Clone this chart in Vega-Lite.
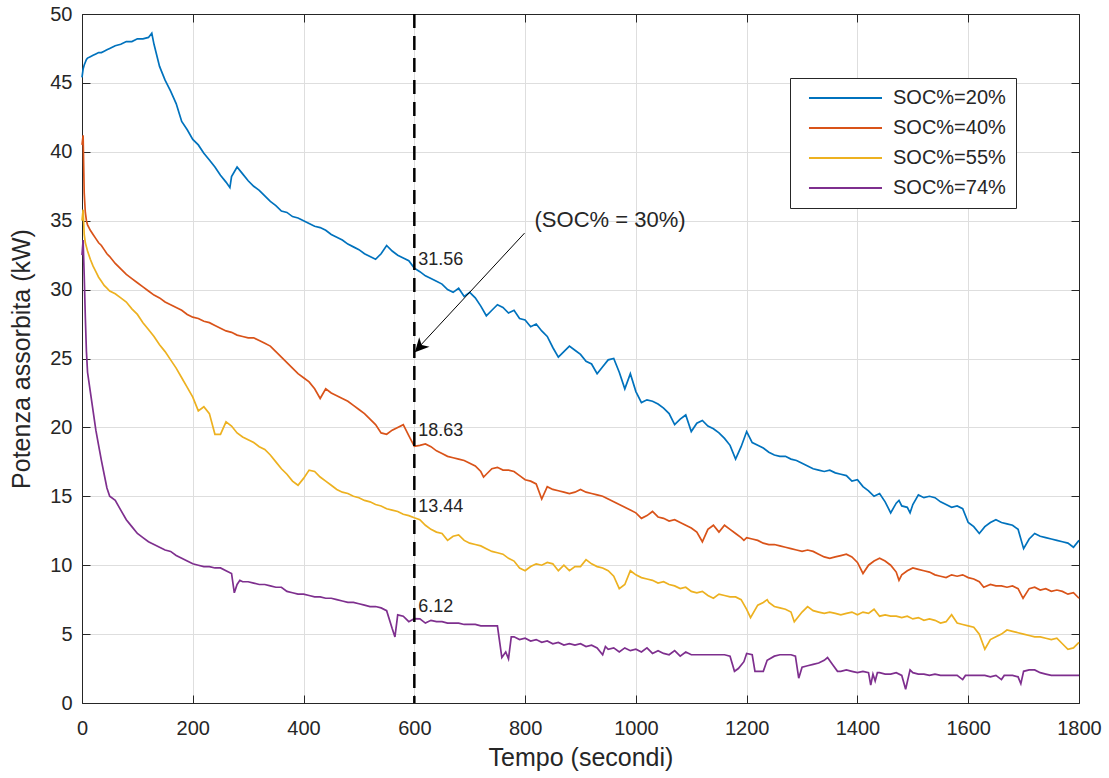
{
"$schema": "https://vega.github.io/schema/vega-lite/v6.json",
"width": 997, "height": 689,
"autosize": "none",
"padding": {"left": 82, "top": 14, "right": 30, "bottom": 75},
"background": "white",
"config": {
  "font": "Liberation Sans",
  "view": {"stroke": null},
  "axis": {"domainColor": "#262626", "tickColor": "#262626", "domainWidth": 1, "tickWidth": 1, "labelColor": "#262626", "titleColor": "#262626", "titleFontWeight": "normal", "labelFontSize": 20, "titleFontSize": 25, "gridColor": "#dedede", "gridWidth": 1, "tickSize": -8, "labelPadding": 23, "labelFlush": false, "format": "d"}
},
"resolve": {"axis": {"x": "independent", "y": "independent"}},
"layer": [
{
  "data": {"values": [
{"t":0,"a":45.4,"b":40.5,"c":35.0,"d":32.5},
{"t":2,"a":46.0,"b":41.2,"c":35.8,"d":33.6},
{"t":4,"a":46.3,"b":37.0,"c":34.0,"d":31.0},
{"t":6,"a":46.5,"b":35.6,"c":33.4,"d":28.0},
{"t":8,"a":46.7,"b":35.0,"c":33.1,"d":25.5},
{"t":10,"a":46.8,"b":34.7,"c":32.8,"d":24.0},
{"t":15,"a":46.9,"b":34.3,"c":32.2,"d":22.6},
{"t":20,"a":47.0,"b":34.0,"c":31.7,"d":21.2},
{"t":25,"a":47.1,"b":33.7,"c":31.3,"d":19.8},
{"t":30,"a":47.2,"b":33.4,"c":30.9,"d":18.7},
{"t":35,"a":47.2,"b":33.2,"c":30.6,"d":17.6},
{"t":40,"a":47.3,"b":32.9,"c":30.3,"d":16.6},
{"t":45,"a":47.4,"b":32.6,"c":30.1,"d":15.6},
{"t":50,"a":47.5,"b":32.4,"c":29.9,"d":15.0},
{"t":60,"a":47.7,"b":31.9,"c":29.7,"d":14.7},
{"t":70,"a":47.8,"b":31.5,"c":29.4,"d":14.0},
{"t":80,"a":48.0,"b":31.1,"c":29.1,"d":13.3},
{"t":90,"a":48.0,"b":30.8,"c":28.6,"d":12.8},
{"t":100,"a":48.2,"b":30.5,"c":28.2,"d":12.3},
{"t":110,"a":48.2,"b":30.2,"c":27.6,"d":12.0},
{"t":120,"a":48.3,"b":29.9,"c":27.1,"d":11.7},
{"t":126,"a":48.6},
{"t":130,"a":47.8,"b":29.6,"c":26.6,"d":11.5},
{"t":140,"a":46.2,"b":29.4,"c":26.0,"d":11.3},
{"t":150,"a":45.2,"b":29.1,"c":25.5,"d":11.1},
{"t":160,"a":44.4,"b":28.9,"c":24.9,"d":11.0},
{"t":170,"a":43.5,"b":28.7,"c":24.3,"d":10.7},
{"t":180,"a":42.2,"b":28.5,"c":23.6,"d":10.5},
{"t":190,"a":41.6,"b":28.2,"c":22.9,"d":10.3},
{"t":200,"a":40.9,"b":28.0,"c":22.2,"d":10.1},
{"t":210,"a":40.5,"b":27.9,"c":21.2,"d":10.0},
{"t":220,"a":39.9,"b":27.7,"c":21.5,"d":9.9},
{"t":230,"a":39.4,"b":27.6,"c":21.0,"d":9.9},
{"t":240,"a":38.9,"b":27.4,"c":19.5,"d":9.8},
{"t":250,"a":38.3,"b":27.2,"c":19.5,"d":9.8},
{"t":260,"a":37.8,"b":27.0,"c":20.4,"d":9.6},
{"t":267,"a":37.4},
{"t":270,"a":38.2,"b":26.9,"c":20.1,"d":9.4},
{"t":275,"d":8.0},
{"t":280,"a":38.9,"b":26.7,"c":19.6,"d":8.6},
{"t":285,"d":8.9},
{"t":290,"a":38.4,"b":26.6,"c":19.3,"d":8.8},
{"t":300,"a":37.9,"b":26.5,"c":19.1,"d":8.8},
{"t":310,"a":37.5,"b":26.5,"c":18.9,"d":8.7},
{"t":320,"a":37.2,"b":26.3,"c":18.6,"d":8.6},
{"t":330,"a":36.8,"b":26.1,"c":18.4,"d":8.6},
{"t":340,"a":36.4,"b":25.9,"c":18.0,"d":8.5},
{"t":350,"a":36.1,"b":25.5,"c":17.5,"d":8.4},
{"t":360,"a":35.7,"b":25.1,"c":17.0,"d":8.4},
{"t":370,"a":35.6,"b":24.7,"c":16.6,"d":8.1},
{"t":380,"a":35.3,"b":24.3,"c":16.1,"d":8.0},
{"t":390,"a":35.2,"b":23.9,"c":15.8,"d":7.9},
{"t":400,"a":35.0,"b":23.6,"c":16.3,"d":7.9},
{"t":410,"a":34.8,"b":23.3,"c":16.9,"d":7.8},
{"t":420,"a":34.6,"b":22.8,"c":16.8,"d":7.7},
{"t":430,"a":34.5,"b":22.1,"c":16.4,"d":7.7},
{"t":440,"a":34.3,"b":22.8,"c":16.1,"d":7.6},
{"t":450,"a":34.0,"b":22.5,"c":15.8,"d":7.6},
{"t":460,"a":33.8,"b":22.3,"c":15.5,"d":7.5},
{"t":470,"a":33.6,"b":22.1,"c":15.3,"d":7.4},
{"t":480,"a":33.3,"b":21.9,"c":15.2,"d":7.3},
{"t":490,"a":33.1,"b":21.6,"c":15.0,"d":7.3},
{"t":500,"a":32.9,"b":21.3,"c":14.9,"d":7.2},
{"t":510,"a":32.6,"b":21.0,"c":14.7,"d":7.1},
{"t":520,"a":32.4,"b":20.6,"c":14.6,"d":7.0},
{"t":530,"a":32.2,"b":20.2,"c":14.4,"d":7.0},
{"t":540,"a":32.6,"b":19.6,"c":14.3,"d":6.9},
{"t":550,"a":33.2,"b":19.5,"c":14.1,"d":6.7},
{"t":560,"a":32.8,"b":19.8,"c":14.0,"d":5.4},
{"t":565,"d":4.8},
{"t":570,"a":32.5,"b":20.0,"c":13.9,"d":6.4},
{"t":580,"a":32.3,"b":20.2,"c":13.7,"d":6.3},
{"t":590,"a":32.1,"b":19.4,"c":13.6,"d":5.9},
{"t":600,"a":31.56,"b":18.63,"c":13.44,"d":6.12},
{"t":610,"a":31.3,"b":18.7,"c":13.3,"d":6.1},
{"t":620,"a":31.0,"b":18.8,"c":12.9,"d":5.8},
{"t":630,"a":30.8,"b":18.6,"c":12.6,"d":6.0},
{"t":640,"a":30.6,"b":18.3,"c":12.4,"d":5.9},
{"t":650,"a":30.4,"b":18.1,"c":12.3,"d":5.9},
{"t":660,"a":30.0,"b":17.9,"c":11.8,"d":5.8},
{"t":670,"a":29.8,"b":17.8,"c":12.1,"d":5.8},
{"t":680,"a":30.1,"b":17.7,"c":12.2,"d":5.8},
{"t":690,"a":29.5,"b":17.6,"c":11.8,"d":5.7},
{"t":700,"a":29.8,"b":17.4,"c":11.6,"d":5.7},
{"t":710,"a":29.4,"b":17.2,"c":11.5,"d":5.7},
{"t":720,"a":28.8,"b":16.8,"c":11.4,"d":5.6},
{"t":725,"b":16.4},
{"t":730,"a":28.1,"b":16.6,"c":11.2,"d":5.6},
{"t":740,"a":28.5,"b":17.0,"c":11.0,"d":5.6},
{"t":750,"a":28.9,"b":17.1,"c":10.9,"d":5.6},
{"t":758,"d":3.3},
{"t":760,"a":28.7,"b":16.9,"c":10.8},
{"t":765,"d":3.7},
{"t":770,"a":28.3,"b":16.9,"c":10.5,"d":3.2},
{"t":775,"d":4.8},
{"t":780,"a":28.5,"b":16.8,"c":10.3,"d":4.8},
{"t":790,"a":27.9,"b":16.5,"c":9.8,"d":4.6},
{"t":800,"a":27.8,"b":16.2,"c":9.6,"d":4.7},
{"t":810,"a":27.3,"b":16.1,"c":9.9,"d":4.5},
{"t":820,"a":27.5,"b":15.9,"c":10.1,"d":4.6},
{"t":830,"a":27.0,"b":14.8,"c":10.0,"d":4.4},
{"t":840,"a":26.6,"b":15.7,"c":10.2,"d":4.5},
{"t":850,"a":25.8,"b":15.5,"c":10.1,"d":4.3},
{"t":860,"a":25.1,"b":15.4,"c":9.6,"d":4.4},
{"t":870,"a":25.5,"b":15.3,"c":10.0,"d":4.2},
{"t":880,"a":25.9,"b":15.2,"c":9.6,"d":4.3},
{"t":890,"a":25.6,"b":15.3,"c":9.9,"d":4.2},
{"t":900,"a":25.3,"b":15.5,"c":9.9,"d":4.3},
{"t":910,"a":24.8,"b":15.3,"c":10.4,"d":4.1},
{"t":920,"a":24.6,"b":15.2,"c":10.1,"d":4.2},
{"t":930,"a":23.9,"b":15.1,"c":9.9,"d":4.0},
{"t":940,"a":24.4,"b":15.0,"c":9.8,"d":3.5},
{"t":945,"d":4.1},
{"t":950,"a":24.9,"b":14.8,"c":9.6,"d":3.9},
{"t":960,"a":25.0,"b":14.6,"c":9.2,"d":4.0},
{"t":970,"a":24.0,"b":14.4,"c":8.3,"d":3.7},
{"t":980,"a":22.8,"b":14.2,"c":8.6,"d":4.0},
{"t":990,"a":23.9,"b":14.0,"c":9.6,"d":3.8},
{"t":1000,"a":22.6,"b":13.8,"c":9.3,"d":3.9},
{"t":1010,"a":21.8,"b":13.4,"c":9.1,"d":3.7},
{"t":1020,"a":22.0,"b":13.6,"c":9.0,"d":4.0},
{"t":1030,"a":21.9,"b":13.9,"c":8.9,"d":3.6},
{"t":1040,"a":21.7,"b":13.5,"c":8.7,"d":3.8},
{"t":1050,"a":21.4,"b":13.4,"c":8.8,"d":3.6},
{"t":1060,"a":21.0,"b":13.2,"c":8.6,"d":3.5},
{"t":1070,"a":20.2,"b":13.3,"c":8.5,"d":3.8},
{"t":1080,"a":20.6,"b":13.1,"c":8.3,"d":3.4},
{"t":1090,"a":20.9,"b":12.9,"c":8.4,"d":3.7},
{"t":1100,"a":19.7,"b":12.7,"c":8.1,"d":3.5},
{"t":1110,"a":20.3,"b":12.4,"c":8.0,"d":3.5},
{"t":1120,"a":20.5,"b":11.7,"c":8.1,"d":3.5},
{"t":1130,"a":20.1,"b":12.6,"c":7.8,"d":3.5},
{"t":1140,"a":19.9,"b":12.9,"c":7.6,"d":3.5},
{"t":1150,"a":19.6,"b":12.4,"c":7.9,"d":3.5},
{"t":1160,"a":19.2,"b":12.9,"c":7.8,"d":3.5},
{"t":1170,"a":18.7,"b":12.6,"c":7.7,"d":3.4},
{"t":1178,"d":2.3},
{"t":1180,"a":17.7,"b":12.3,"c":7.7},
{"t":1185,"d":2.5},
{"t":1190,"a":18.6,"b":12.0,"c":7.5},
{"t":1195,"b":11.8,"d":3.0},
{"t":1200,"a":19.7,"b":12.0,"c":6.8,"d":3.6},
{"t":1207,"c":6.2},
{"t":1210,"a":18.9,"b":11.9,"d":3.5},
{"t":1215,"d":2.3},
{"t":1220,"a":18.7,"b":11.8,"c":7.1},
{"t":1230,"a":18.5,"b":11.6,"c":7.3,"d":2.3},
{"t":1237,"c":7.5,"d":3.1},
{"t":1240,"a":18.2,"b":11.5,"c":7.3},
{"t":1250,"a":18.0,"b":11.5,"c":7.0,"d":3.4},
{"t":1260,"a":17.9,"b":11.4,"c":6.9,"d":3.5},
{"t":1270,"a":17.9,"b":11.3,"c":6.8,"d":3.5},
{"t":1280,"a":17.7,"b":11.2,"c":6.6,"d":3.5},
{"t":1286,"c":5.9},
{"t":1288,"d":3.4},
{"t":1290,"a":17.6,"b":11.1},
{"t":1294,"d":1.8},
{"t":1300,"a":17.4,"b":11.0,"c":6.6,"d":2.6},
{"t":1310,"a":17.2,"b":11.1,"c":7.0,"d":2.7},
{"t":1320,"a":17.0,"b":11.0,"c":6.7,"d":2.8},
{"t":1330,"a":16.9,"b":10.8,"c":6.6,"d":2.9},
{"t":1340,"a":16.8,"b":10.6,"c":6.5,"d":3.1},
{"t":1346,"d":3.3},
{"t":1350,"a":16.9,"b":10.5,"c":6.6},
{"t":1355,"d":2.8},
{"t":1360,"a":16.7,"b":10.6,"c":6.5},
{"t":1364,"d":2.3},
{"t":1370,"a":16.6,"b":10.7,"c":6.4,"d":2.3},
{"t":1380,"a":16.5,"b":10.8,"c":6.5,"d":2.4},
{"t":1390,"a":16.1,"b":10.6,"c":6.6,"d":2.3},
{"t":1400,"a":16.2,"b":10.2,"c":6.4,"d":2.2},
{"t":1410,"a":15.7,"b":9.4,"c":6.6,"d":2.3},
{"t":1420,"a":15.4,"b":10.0,"c":6.5,"d":2.2},
{"t":1424,"d":1.3},
{"t":1428,"d":2.1},
{"t":1430,"a":15.0,"b":10.3,"c":6.8},
{"t":1432,"d":1.6},
{"t":1436,"d":2.2},
{"t":1440,"a":15.2,"b":10.5,"c":6.3,"d":2.2},
{"t":1450,"a":14.6,"b":10.3,"c":6.4,"d":2.1},
{"t":1460,"a":13.8,"b":10.0,"c":6.3,"d":2.1},
{"t":1470,"a":14.5,"b":9.5,"c":6.3,"d":2.2},
{"t":1475,"a":14.7,"b":8.9},
{"t":1480,"a":14.3,"b":9.3,"c":6.2,"d":2.0},
{"t":1487,"d":1.0},
{"t":1490,"a":14.2,"b":9.6,"c":6.3},
{"t":1495,"a":13.8,"d":2.4},
{"t":1500,"a":14.4,"b":9.8,"c":6.1,"d":2.2},
{"t":1510,"a":15.1,"b":9.7,"c":6.2,"d":2.1},
{"t":1520,"a":14.9,"b":9.6,"c":6.0,"d":2.1},
{"t":1530,"a":15.0,"b":9.5,"c":6.1,"d":2.0},
{"t":1540,"a":14.9,"b":9.3,"c":6.0,"d":2.1},
{"t":1550,"a":14.6,"b":9.2,"c":5.8,"d":2.0},
{"t":1560,"a":14.4,"b":9.1,"c":5.9,"d":2.0},
{"t":1570,"a":14.2,"b":9.3,"c":6.4,"d":2.0},
{"t":1580,"a":14.3,"b":9.2,"c":5.8,"d":2.0},
{"t":1590,"a":14.1,"b":9.3,"c":5.7,"d":1.7},
{"t":1595,"d":2.0},
{"t":1600,"a":13.1,"b":9.1,"c":5.6,"d":2.0},
{"t":1610,"a":12.8,"b":9.0,"c":5.5,"d":2.0},
{"t":1620,"a":12.3,"b":8.8,"c":5.0,"d":2.0},
{"t":1628,"b":8.4},
{"t":1630,"a":12.8,"c":3.9,"d":2.0},
{"t":1640,"a":13.1,"b":8.6,"c":4.6,"d":1.9},
{"t":1650,"a":13.3,"b":8.5,"c":4.8,"d":2.0},
{"t":1660,"a":13.1,"b":8.5,"c":5.0,"d":1.7},
{"t":1665,"d":2.0},
{"t":1670,"a":13.0,"b":8.4,"c":5.3,"d":2.0},
{"t":1680,"a":12.9,"b":8.5,"c":5.2,"d":2.0},
{"t":1690,"a":12.6,"b":8.3,"c":5.1,"d":1.9},
{"t":1695,"d":1.4},
{"t":1699,"b":7.6},
{"t":1700,"a":11.2,"c":5.0,"d":2.3},
{"t":1710,"a":11.9,"b":8.3,"c":4.9,"d":2.4},
{"t":1720,"a":12.3,"b":8.4,"c":4.8,"d":2.4},
{"t":1730,"a":12.1,"b":8.2,"c":4.8,"d":2.2},
{"t":1740,"a":12.0,"b":8.3,"c":4.7,"d":2.1},
{"t":1750,"a":11.9,"b":8.1,"c":4.6,"d":2.0},
{"t":1760,"a":11.8,"b":8.2,"c":4.7,"d":2.0},
{"t":1770,"a":11.7,"b":8.1,"c":4.3,"d":2.0},
{"t":1780,"a":11.6,"b":7.9,"c":3.9,"d":2.0},
{"t":1790,"a":11.3,"b":8.0,"c":4.0,"d":2.0},
{"t":1800,"a":11.8,"b":7.6,"c":4.4,"d":2.0}
  ]},
  "transform": [
    {"fold": ["a", "b", "c", "d"], "as": ["s", "v"]},
    {"filter": "isValid(datum.v)"}
  ],
  "mark": {"type": "line", "strokeWidth": 1.7},
  "encoding": {
    "x": {"field": "t", "type": "quantitative", "scale": {"domain": [0, 1800], "nice": false},
          "axis": {"orient": "bottom", "values": [0,200,400,600,800,1000,1200,1400,1600,1800], "title": "Tempo (secondi)", "grid": true, "titlePadding": 7}},
    "y": {"field": "v", "type": "quantitative", "scale": {"domain": [0, 50], "nice": false},
          "axis": {"orient": "left", "values": [0,5,10,15,20,25,30,35,40,45,50], "title": "Potenza assorbita (kW)", "grid": true, "titlePadding": 15, "labelPadding": 18}},
    "color": {"field": "s", "type": "nominal",
      "scale": {"domain": ["a", "b", "c", "d"], "range": ["#0072BD", "#D95319", "#EDB120", "#7E2F8E"]},
      "legend": {"orient": "none", "legendX": 708, "legendY": 64, "title": null,
        "strokeColor": "#262626", "fillColor": "white", "padding": 10,
        "symbolType": "M-0.17,0H12", "symbolSize": 144, "symbolStrokeWidth": 2,
        "labelFontSize": 20, "labelColor": "#262626", "labelOffset": 73, "rowPadding": 10,
        "labelExpr": "{'a':'SOC%=20%','b':'SOC%=40%','c':'SOC%=55%','d':'SOC%=74%'}[datum.label]"}}
  }
},
{
  "data": {"values": [{"t": 0, "v": 0}]},
  "mark": {"type": "point", "opacity": 0},
  "encoding": {
    "x": {"field": "t", "type": "quantitative", "axis": {"orient": "top", "values": [0,200,400,600,800,1000,1200,1400,1600,1800], "labels": false, "title": null, "grid": false}},
    "y": {"field": "v", "type": "quantitative", "axis": {"orient": "right", "values": [0,5,10,15,20,25,30,35,40,45,50], "labels": false, "title": null, "grid": false}}
  }
},
{
  "data": {"values": [{"t": 600}]},
  "mark": {"type": "rule", "color": "black", "strokeWidth": 2.5, "strokeDash": [14, 8]},
  "encoding": {"x": {"field": "t", "type": "quantitative", "axis": null}}
},
{
  "data": {"values": [
    {"t": 600, "v": 32.15, "label": "31.56"},
    {"t": 600, "v": 19.75, "label": "18.63"},
    {"t": 600, "v": 14.2, "label": "13.44"},
    {"t": 600, "v": 7.0, "label": "6.12"}
  ]},
  "mark": {"type": "text", "align": "left", "baseline": "middle", "dx": 4, "fontSize": 18, "color": "#262626"},
  "encoding": {
    "x": {"field": "t", "type": "quantitative", "axis": null},
    "y": {"field": "v", "type": "quantitative", "axis": null},
    "text": {"field": "label"}
  }
},
{
  "data": {"values": [{"t": 799, "v": 34.1, "t2": 603, "v2": 25.6}]},
  "mark": {"type": "rule", "color": "black", "strokeWidth": 1},
  "encoding": {
    "x": {"field": "t", "type": "quantitative", "axis": null},
    "y": {"field": "v", "type": "quantitative", "axis": null},
    "x2": {"field": "t2"},
    "y2": {"field": "v2"}
  }
},
{
  "data": {"values": [{"t": 601, "v": 25.45}]},
  "mark": {"type": "point", "shape": "M0,0L0.7,1.4L0,1.0L-0.7,1.4Z", "angle": 222.5, "size": 400, "filled": true, "color": "black", "opacity": 1, "strokeWidth": 0},
  "encoding": {
    "x": {"field": "t", "type": "quantitative", "axis": null},
    "y": {"field": "v", "type": "quantitative", "axis": null}
  }
},
{
  "data": {"values": [{"t": 817, "v": 35.05, "label": "(SOC% = 30%)"}]},
  "mark": {"type": "text", "align": "left", "baseline": "middle", "fontSize": 22, "color": "#262626"},
  "encoding": {
    "x": {"field": "t", "type": "quantitative", "axis": null},
    "y": {"field": "v", "type": "quantitative", "axis": null},
    "text": {"field": "label"}
  }
}
]
}
